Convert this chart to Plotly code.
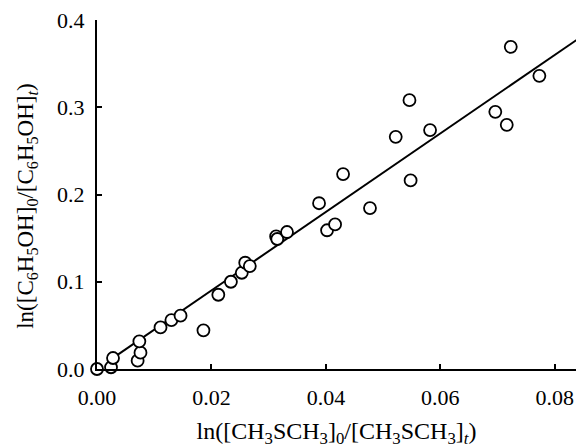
import plotly.graph_objects as go

# data
x_vals = [0.0, 0.00245, 0.0028, 0.0071, 0.0076, 0.0074, 0.0111, 0.0130, 0.0146, 0.0186,
          0.0212, 0.0234, 0.0253, 0.0259, 0.0267, 0.0313, 0.0315, 0.0332, 0.0402, 0.0416,
          0.0388, 0.0430, 0.0477, 0.0522, 0.0546, 0.0548, 0.0582, 0.0696, 0.0716, 0.0723,
          0.0773]
y_vals = [0.0, 0.002, 0.0126, 0.0095, 0.0187, 0.0317, 0.0477, 0.0561, 0.0611, 0.0443,
          0.0851, 0.1000, 0.1103, 0.1218, 0.118, 0.1520, 0.1490, 0.157, 0.159, 0.1657,
          0.190, 0.2234, 0.1844, 0.2661, 0.3081, 0.2161, 0.2738, 0.2947, 0.2798, 0.3692,
          0.336]

fit_x = [0.0025, 0.0838]
fit_y = [0.0113, 0.3771]

x_ticks = [0.0, 0.02, 0.04, 0.06, 0.08]
x_tick_labels = ["0.00", "0.02", "0.04", "0.06", "0.08"]
y_ticks = [0.0, 0.1, 0.2, 0.3, 0.4]
y_tick_labels = ["0.0", "0.1", "0.2", "0.3", "0.4"]

x_title = "ln([CH<sub>3</sub>SCH<sub>3</sub>]<sub>0</sub>/[CH<sub>3</sub>SCH<sub>3</sub>]<sub><i>t</i></sub>)"
y_title = "ln([C<sub>6</sub>H<sub>5</sub>OH]<sub>0</sub>/[C<sub>6</sub>H<sub>5</sub>OH]<sub><i>t</i></sub>)"

FONT = "Liberation Serif, Times New Roman, serif"

fig = go.Figure()
fig.add_trace(go.Scatter(x=fit_x, y=fit_y, mode="lines",
                         line=dict(color="black", width=2), showlegend=False,
                         cliponaxis=False))
fig.add_trace(go.Scatter(x=x_vals, y=y_vals, mode="markers",
                         marker=dict(symbol="circle", size=12, color="white",
                                     line=dict(color="black", width=1.8)),
                         showlegend=False, cliponaxis=False))

fig.update_layout(
    width=576, height=448,
    margin=dict(l=97, r=0, t=20, b=79),
    paper_bgcolor="white", plot_bgcolor="white",
    font=dict(family=FONT, size=22, color="black"),
)
fig.update_xaxes(
    range=[0, 0.0837], showgrid=False, zeroline=False,
    showline=True, linecolor="black", linewidth=2,
    ticks="inside", ticklen=5, tickwidth=1.5, tickcolor="black",
    tickvals=x_ticks, ticktext=x_tick_labels, ticklabelstandoff=8,
    title=dict(text=x_title, standoff=15, font=dict(size=24)),
)
fig.update_yaxes(
    range=[0, 0.4], showgrid=False, zeroline=False,
    showline=True, linecolor="black", linewidth=2,
    ticks="inside", ticklen=5, tickwidth=1.5, tickcolor="black",
    tickvals=y_ticks, ticktext=y_tick_labels, ticklabelstandoff=6,
)
fig.add_annotation(text=y_title, textangle=-90, xref="paper", yref="paper",
                   x=-0.146, y=0.465, xanchor="center", yanchor="middle",
                   showarrow=False, font=dict(size=23))

fig.write_html("out.html")
